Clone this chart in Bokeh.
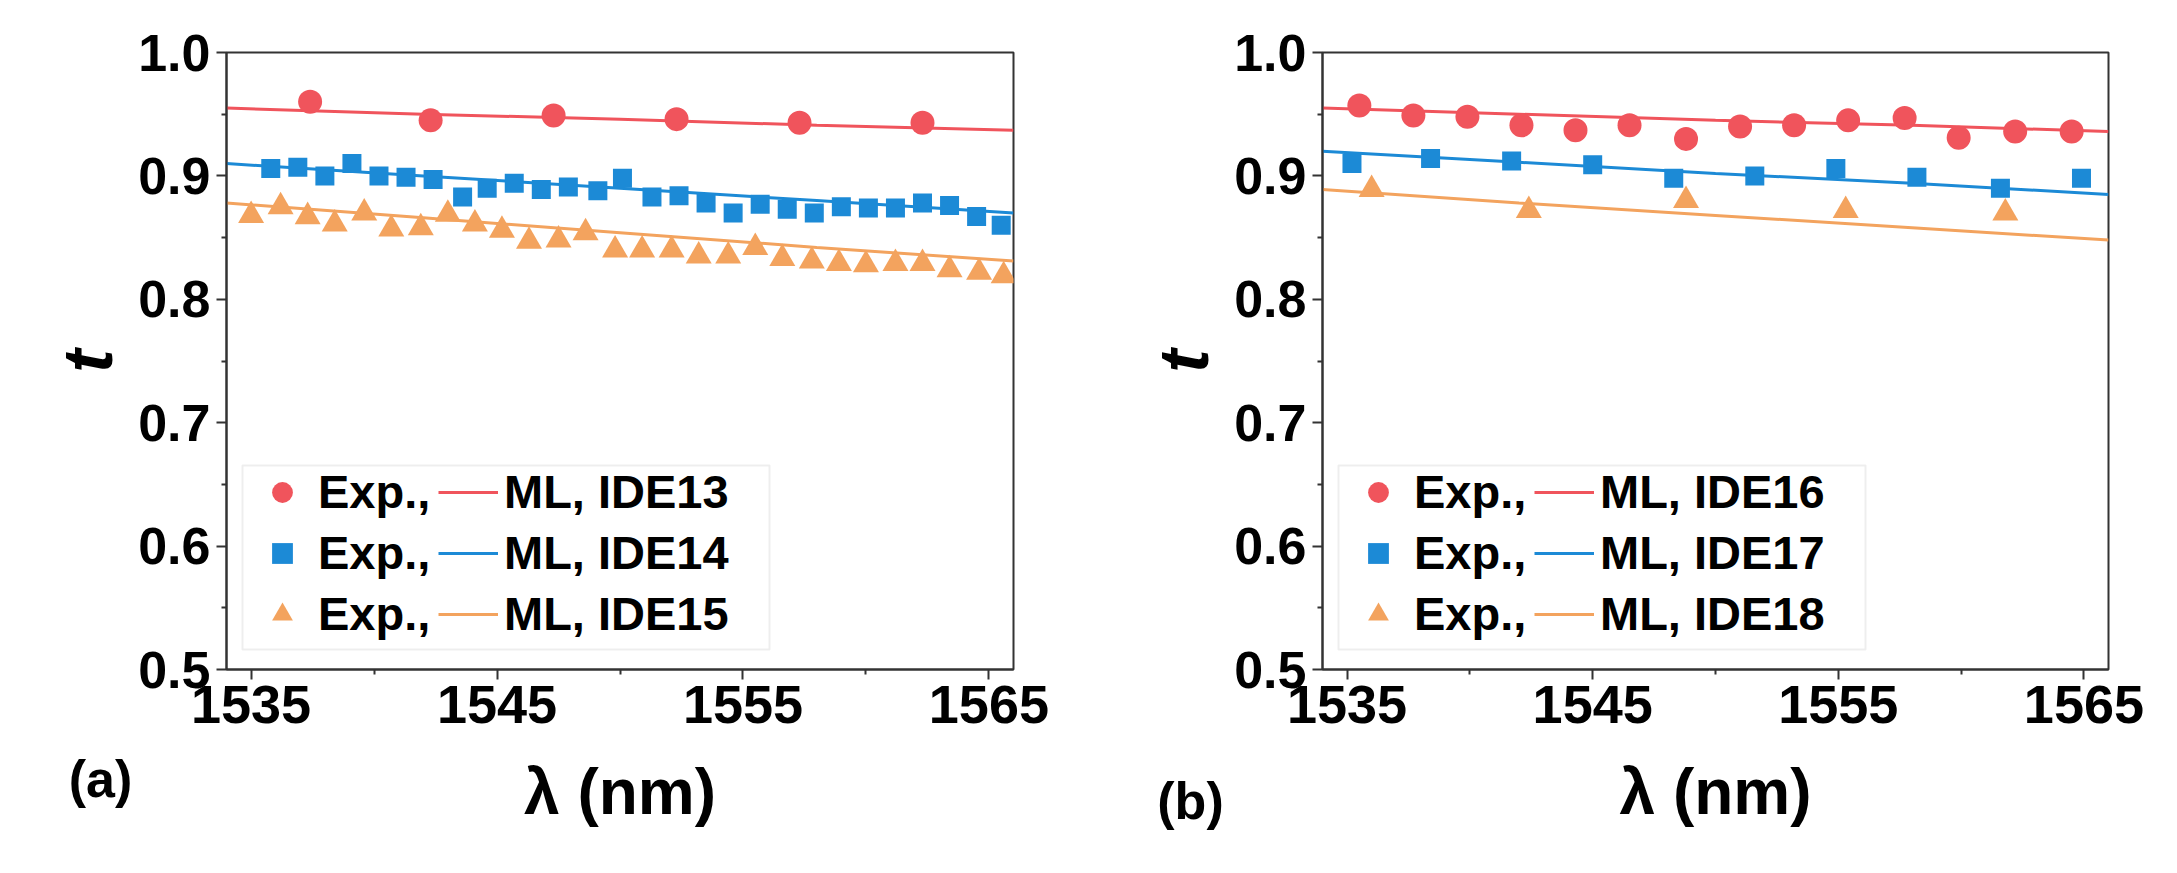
from bokeh.plotting import figure
from bokeh.layouts import row
from bokeh.models import (Range1d, FixedTicker, Legend, LegendItem, Label,
                          CustomJSTickFormatter, BoxAnnotation)
from bokeh.embed import file_html
from bokeh.resources import INLINE

# ---------------- data ----------------
# panel (a): IDE13 / IDE14 / IDE15
a_exp13_x = [1537.4, 1542.3, 1547.3, 1552.3, 1557.3, 1562.3]
a_exp13_t = [0.960, 0.945, 0.949, 0.946, 0.943, 0.943]

a_exp14_x = [1535.8, 1536.9, 1538.0, 1539.1, 1540.2, 1541.3, 1542.4, 1543.6,
             1544.6, 1545.7, 1546.8, 1547.9, 1549.1, 1550.1, 1551.3, 1552.4,
             1553.5, 1554.6, 1555.7, 1556.8, 1557.9, 1559.0, 1560.1, 1561.2,
             1562.3, 1563.4, 1564.5, 1565.5]
a_exp14_t = [0.906, 0.907, 0.900, 0.910, 0.900, 0.899, 0.897, 0.883,
             0.890, 0.894, 0.889, 0.891, 0.888, 0.898, 0.883, 0.884,
             0.878, 0.870, 0.877, 0.873, 0.870, 0.875, 0.874, 0.874,
             0.878, 0.876, 0.867, 0.860]

a_exp15_x = [1535.0, 1536.2, 1537.3, 1538.4, 1539.6, 1540.7, 1541.9, 1543.0,
             1544.1, 1545.2, 1546.3, 1547.5, 1548.6, 1549.8, 1550.9, 1552.1,
             1553.2, 1554.4, 1555.5, 1556.6, 1557.8, 1558.9, 1560.0, 1561.2,
             1562.3, 1563.4, 1564.6, 1565.6]
a_exp15_t = [0.868, 0.875, 0.867, 0.861, 0.870, 0.857, 0.858, 0.869,
             0.861, 0.856, 0.847, 0.848, 0.854, 0.840, 0.840, 0.840,
             0.835, 0.835, 0.842, 0.833, 0.831, 0.829, 0.828, 0.829,
             0.829, 0.824, 0.822, 0.819]

a_ml_x = [1534.0, 1542.0, 1550.0, 1558.0, 1566.0]
a_ml13_t = [0.955, 0.950, 0.946, 0.941, 0.937]
a_ml14_t = [0.910, 0.900, 0.890, 0.880, 0.870]
a_ml15_t = [0.878, 0.866, 0.854, 0.842, 0.831]

# panel (b): IDE16 / IDE17 / IDE18
b_exp16_x = [1535.5, 1537.7, 1539.9, 1542.1, 1544.3, 1546.5, 1548.8,
             1551.0, 1553.2, 1555.4, 1557.7, 1559.9, 1562.2, 1564.5]
b_exp16_t = [0.957, 0.949, 0.948, 0.941, 0.937, 0.941, 0.930,
             0.940, 0.941, 0.945, 0.947, 0.931, 0.936, 0.936]

b_exp17_x = [1535.2, 1538.4, 1541.7, 1545.0, 1548.3, 1551.6, 1554.9,
             1558.2, 1561.6, 1564.9]
b_exp17_t = [0.910, 0.914, 0.912, 0.909, 0.898, 0.900, 0.906,
             0.899, 0.890, 0.898]

b_exp18_x = [1536.0, 1542.4, 1548.8, 1555.3, 1561.8]
b_exp18_t = [0.889, 0.872, 0.880, 0.872, 0.870]

b_ml_x = [1534.0, 1542.0, 1550.0, 1558.0, 1566.0]
b_ml16_t = [0.955, 0.950, 0.945, 0.941, 0.936]
b_ml17_t = [0.920, 0.911, 0.902, 0.894, 0.885]
b_ml18_t = [0.889, 0.878, 0.868, 0.858, 0.848]

x_ticks = [1535, 1545, 1555, 1565]
y_ticks = [0.5, 0.6, 0.7, 0.8, 0.9, 1.0]

RED = "#F0545C"
BLUE = "#1C8AD6"
ORANGE = "#F3A35E"
FONT = "Liberation Sans"


def make_panel(width, border_left, border_right, series, names, tag, tag_x, tag_y):
    p = figure(width=width, height=873, output_backend="svg",
               toolbar_location=None,
               x_range=Range1d(1534.0, 1566.0), y_range=Range1d(0.5, 1.0),
               min_border_left=border_left, min_border_right=border_right,
               min_border_top=52, min_border_bottom=204)
    p.background_fill_color = "white"
    p.border_fill_color = "white"
    p.xgrid.visible = False
    p.ygrid.visible = False
    p.outline_line_color = "#333333"
    p.outline_line_width = 2

    for ax in (p.xaxis[0], p.yaxis[0]):
        ax.axis_line_color = "#333333"
        ax.axis_line_width = 2
        ax.major_tick_line_color = "#333333"
        ax.minor_tick_line_color = "#333333"
        ax.major_tick_line_width = 2
        ax.minor_tick_line_width = 2
        ax.major_tick_in = 0
        ax.minor_tick_in = 0
        ax.major_tick_out = 10
        ax.minor_tick_out = 5
        ax.major_label_text_font = FONT
        ax.major_label_text_font_style = "bold"
        ax.major_label_text_color = "black"
        ax.axis_label_text_font = FONT
        ax.axis_label_text_font_style = "bold"
        ax.axis_label_text_color = "black"

    p.xaxis.ticker = FixedTicker(ticks=x_ticks, minor_ticks=[1540, 1550, 1560])
    p.yaxis.ticker = FixedTicker(ticks=y_ticks,
                                 minor_ticks=[0.55, 0.65, 0.75, 0.85, 0.95])
    p.yaxis.formatter = CustomJSTickFormatter(code="return tick.toFixed(1)")
    p.xaxis.major_label_text_font_size = "54px"
    p.yaxis.major_label_text_font_size = "52px"
    p.xaxis.major_label_standoff = 6
    p.yaxis.major_label_standoff = 6
    p.xaxis.axis_label = "λ (nm)"
    p.xaxis.axis_label_text_font_size = "64px"
    p.xaxis.axis_label_standoff = 30
    p.yaxis.axis_label = "t"
    p.yaxis.axis_label_text_font_size = "70px"
    p.yaxis.axis_label_text_font_style = "bold italic"
    p.yaxis.axis_label_standoff = 8

    (ex1, ey1), (ex2, ey2), (ex3, ey3), (mx, m1, m2, m3) = series
    l1 = p.line(mx, m1, line_color=RED, line_width=3)
    l2 = p.line(mx, m2, line_color=BLUE, line_width=3)
    l3 = p.line(mx, m3, line_color=ORANGE, line_width=3)
    s1 = p.scatter(ex1, ey1, marker="circle", size=24, fill_color=RED,
                   line_color=RED, line_width=0)
    s2 = p.scatter(ex2, ey2, marker="square", size=19, fill_color=BLUE,
                   line_color=BLUE, line_width=0)
    s3 = p.scatter(ex3, ey3, marker="triangle", size=26, fill_color=ORANGE,
                   line_color=ORANGE, line_width=0)

    # legend frame
    box = BoxAnnotation(left=16, right=543, bottom=20, top=204,
                        left_units="screen", right_units="screen",
                        bottom_units="screen", top_units="screen",
                        fill_color="white", fill_alpha=1.0,
                        line_color="#c8c8c8", line_width=2)
    p.add_layout(box)

    items = [LegendItem(label="Exp.,", renderers=[s1]),
             LegendItem(label="Exp.,", renderers=[s2]),
             LegendItem(label="Exp.,", renderers=[s3]),
             LegendItem(label="ML, " + names[0], renderers=[l1]),
             LegendItem(label="ML, " + names[1], renderers=[l2]),
             LegendItem(label="ML, " + names[2], renderers=[l3])]
    leg = Legend(items=items, location=(20, 22), orientation="vertical",
                 ncols=2, glyph_width=60, glyph_height=52, label_height=52,
                 label_width=114, label_standoff=6, spacing=6, padding=6,
                 margin=0, border_line_alpha=0, background_fill_alpha=0,
                 label_text_font=FONT, label_text_font_style="bold",
                 label_text_font_size="47px", label_text_color="black")
    p.add_layout(leg)

    # panel tag, positioned in canvas pixels
    p.add_layout(Label(x=tag_x, y=tag_y, x_units="canvas", y_units="canvas",
                       text=tag, text_font=FONT, text_font_style="bold",
                       text_font_size="52px", text_color="black",
                       text_baseline="middle", text_align="center"), "right")
    return p


pa = make_panel(1100, 226, 87,
                [(a_exp13_x, a_exp13_t), (a_exp14_x, a_exp14_t),
                 (a_exp15_x, a_exp15_t), (a_ml_x, a_ml13_t, a_ml14_t, a_ml15_t)],
                ["IDE13", "IDE14", "IDE15"], "(a)", 100, 778)
pb = make_panel(1077, 222, 69,
                [(b_exp16_x, b_exp16_t), (b_exp17_x, b_exp17_t),
                 (b_exp18_x, b_exp18_t), (b_ml_x, b_ml16_t, b_ml17_t, b_ml18_t)],
                ["IDE16", "IDE17", "IDE18"], "(b)", 90, 800)

layout = row(pa, pb, spacing=0)
open("out.html", "w").write(file_html(layout, INLINE))
